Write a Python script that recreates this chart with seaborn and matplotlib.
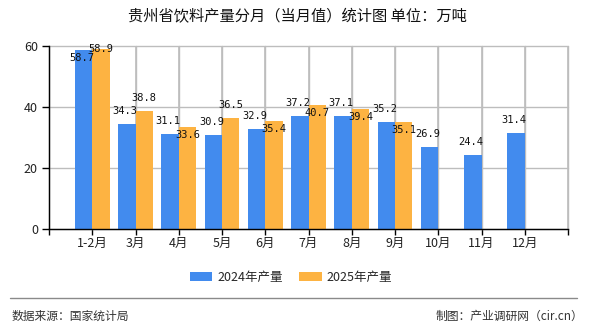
import numpy as np
import pandas as pd
import matplotlib
matplotlib.use("Agg")
import matplotlib.pyplot as plt
import seaborn as sns
from matplotlib.lines import Line2D
from matplotlib.patches import Patch

categories = ["1-2月", "3月", "4月", "5月", "6月", "7月", "8月", "9月", "10月", "11月", "12月"]
values_2024 = [58.7, 34.3, 31.1, 30.9, 32.9, 37.2, 37.1, 35.2, 26.9, 24.4, 31.4]
values_2025 = [58.9, 38.8, 33.6, 36.5, 35.4, 40.7, 39.4, 35.1, np.nan, np.nan, np.nan]
series_names = ["2024年产量", "2025年产量"]
yticks = [0, 20, 40, 60]
title = "贵州省饮料产量分月（当月值）统计图 单位：万吨"
source_text = "数据来源：国家统计局"
credit_text = "制图：产业调研网（cir.cn）"

BLUE = "#428bee"
ORANGE = "#fdb342"
GRID = "#bdbdbd"

sns.set_style("white")
plt.rcParams["font.family"] = ["Noto Sans CJK SC", "DejaVu Sans"]

df = pd.DataFrame({
    "month": categories * 2,
    "series": [series_names[0]] * len(categories) + [series_names[1]] * len(categories),
    "value": values_2024 + values_2025,
})

W, H = 590, 330
fig = plt.figure(figsize=(W / 100, H / 100), dpi=100)
ax = fig.add_axes([49 / W, 1 - 229 / H, (568 - 49) / W, (229 - 46) / H])

sns.barplot(data=df, x="month", y="value", hue="series", order=categories,
            hue_order=series_names, palette=[BLUE, ORANGE], width=0.8,
            saturation=1, ax=ax, legend=False, zorder=3, linewidth=0, edgecolor="none")

ax.set_xlim(-1, len(categories))
ax.set_ylim(0, 60)
ax.set_xticks(range(-1, len(categories) + 1))
ax.set_xticklabels([""] + categories + [""])
ax.set_yticks(yticks)
ax.set_xlabel("")
ax.set_ylabel("")
ax.set_axisbelow(True)
for s in ["top", "right"]:
    ax.spines[s].set_visible(False)
ax.spines["left"].set_color("black")
ax.spines["bottom"].set_color("black")
ax.spines["left"].set_linewidth(1)
ax.spines["bottom"].set_linewidth(1)
ax.spines["left"].set_zorder(6)
ax.spines["bottom"].set_zorder(6)
ax.tick_params(axis="x", length=4, width=1, color="black", labelsize=9, pad=2, direction="out",
               grid_color=GRID, grid_linewidth=1)
ax.tick_params(axis="y", length=5, width=1, color="black", labelsize=9, pad=3, direction="out",
               grid_color=GRID, grid_linewidth=1)
ax.tick_params(bottom=True, left=True)
for lab in ax.get_xticklabels() + ax.get_yticklabels():
    lab.set_color("#222222")

# data labels
for si, cont in enumerate(ax.containers):
    for bar in cont:
        h = bar.get_height()
        if h is None or np.isnan(h) or h == 0:
            continue
        cx = bar.get_x() + bar.get_width() / 2
        idx = int(round(cx))
        if si == 0:
            dx = -2
            dy = 13 if h < 55 else -8
        else:
            other = values_2024[idx]
            dx = 0
            if h > 55:
                dy = 0
            elif abs(h - other) < 4:
                dy = -8
            else:
                dy = 13
        ax.annotate(f"{h:.1f}", (cx, h), xytext=(dx, dy), textcoords="offset pixels",
                    ha="center", va="center", fontsize=7.5, family="DejaVu Sans Mono",
                    color="#111111", zorder=7)

# title
fig.text(297 / W, 1 - 17 / H, title, ha="center", va="center", fontsize=11, color="#111111")

# legend
handles = [Patch(facecolor=BLUE, edgecolor="none"), Patch(facecolor=ORANGE, edgecolor="none")]
fig.legend(handles, series_names, loc="center", bbox_to_anchor=(291 / W, 1 - 277 / H),
           ncol=2, frameon=False, fontsize=9, handlelength=1.8, handleheight=0.75,
           handletextpad=0.4, columnspacing=1.3)

# footer
fig.add_artist(Line2D([10 / W, 577 / W], [1 - 298 / H, 1 - 298 / H], color="#8a8a8a", linewidth=1))
fig.text(12 / W, 1 - 316 / H, source_text, ha="left", va="center", fontsize=8.5, color="#333333")
fig.text(583 / W, 1 - 316 / H, credit_text, ha="right", va="center", fontsize=8.5, color="#333333")

# grid on both axes (seaborn turns the categorical grid off, so enable it last)
ax.xaxis.grid(True, which="major", color=GRID, linewidth=1)
ax.yaxis.grid(True, which="major", color=GRID, linewidth=1)
ax.vlines(ax.get_xticks()[1:], 0, 60, colors=GRID, linewidth=1.2, zorder=2.5)
for gl in ax.get_xgridlines() + ax.get_ygridlines():
    gl.set_clip_on(False)

fig.savefig("out.png", dpi=100)
